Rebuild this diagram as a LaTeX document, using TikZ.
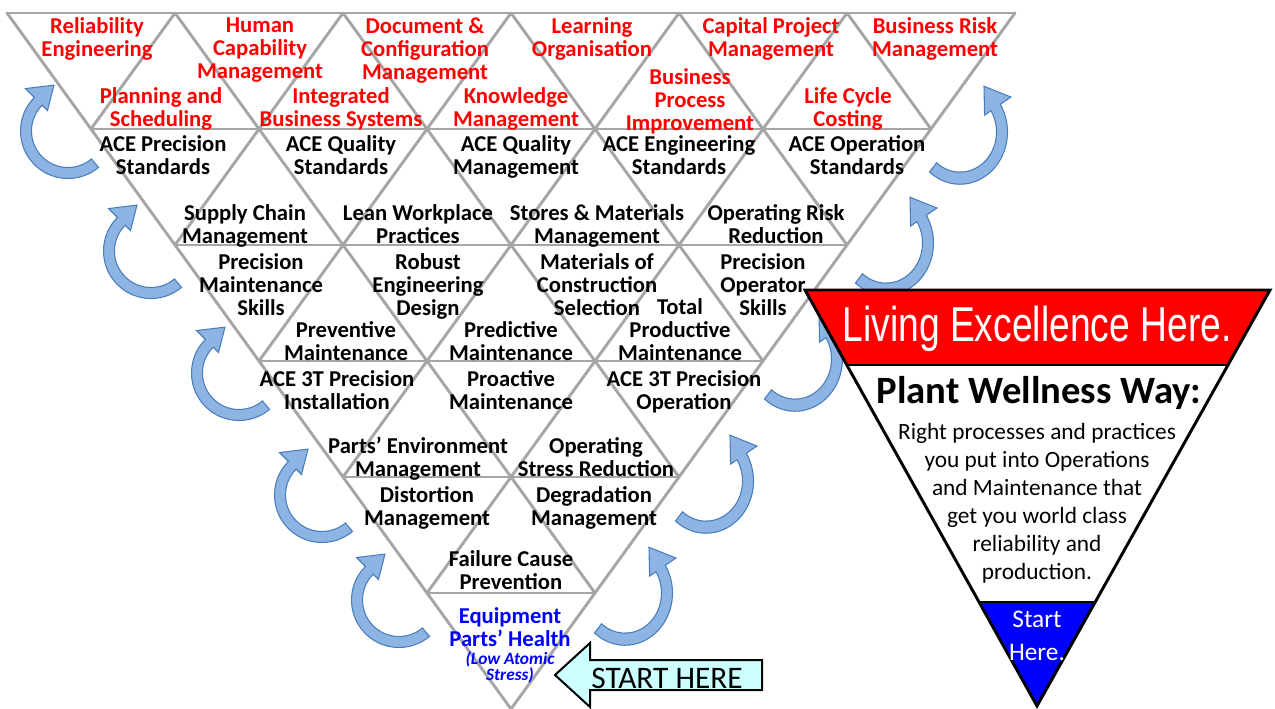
\documentclass[tikz,border=0pt]{standalone}
\usepackage{fontspec}
\setmainfont{Carlito}
\newfontfamily\arialfont{Liberation Sans}
\usepackage{tikz}
\usetikzlibrary{positioning}
\definecolor{gridgray}{RGB}{166,166,166}
\definecolor{arrowfill}{RGB}{141,180,226}
\definecolor{arrowline}{RGB}{74,126,187}
\definecolor{startfill}{RGB}{204,255,255}

% curved blue arrow, #1 = where the shaft ends (degrees, clockwise)
\tikzset{
  pics/circarrow/.style={code={
    \filldraw[fill=arrowfill, draw=arrowline, line width=0.8pt, line join=miter]
      (-50:47.5) arc[start angle=-50, end angle=-#1, radius=47.5]
      -- ({-#1}:60) -- ({-#1-28}:48) -- ({-#1}:29) -- ({-#1}:36.5)
      arc[start angle=-#1, end angle=-50, radius=36.5] -- cycle;
  }}
}

\begin{document}
\begin{tikzpicture}[x=0.75pt, y=0.75pt,
    gridline/.style={draw=gridgray, line width=2.2pt, line cap=round},
    lbl/.style={align=center, inner sep=0pt, yshift=-3.5pt,
        font=\fontsize{17}{17.25}\selectfont\bfseries,
        execute at begin node=\strut, execute at end node=\strut},
    redlbl/.style={lbl, text=red},
    bluelbl/.style={lbl, text=blue}]
    \useasboundingbox (0,0) rectangle (1275,-709);

    % triangle grid
    \foreach \k in {0,...,5}
        \draw[gridline] ({7+84*\k},{-13-116*\k}) -- ({1015-84*\k},{-13-116*\k});
    \foreach \i in {0,...,5} {
        \draw[gridline] ({7+168*\i},-13) -- ({7+168*\i+84*(6-\i)},{-13-116*(6-\i)});
        \draw[gridline] ({1015-168*\i},-13) -- ({1015-168*\i-84*(6-\i)},{-13-116*(6-\i)});
    }

    % business level
    \node [redlbl] (relEng) at (97,-36) {Reliability\\Engineering};
    \node [redlbl] (humCap) at (260,-47) {Human\\Capability\\Management};
    \node [redlbl] (docCfg) at (425,-47) {Document \&\\Configuration\\Management};
    \node [redlbl] (learnOrg) at (592,-36) {Learning\\Organisation};
    \node [redlbl] (capProj) at (771,-36) {Capital Project\\Management};
    \node [redlbl] (busRisk) at (935,-36) {Business Risk\\Management};
    \node [redlbl] (planSched) at (161,-106) {Planning and\\Scheduling};
    \node [redlbl] (intBus) at (341,-106) {Integrated\\Business Systems};
    \node [redlbl] (knowMgmt) at (516,-106) {Knowledge\\Management};
    \node [redlbl] (busProc) at (690,-98) {Business\\Process\\Improvement};
    \node [redlbl] (lifeCyc) at (848,-106) {Life Cycle\\Costing};

    % standards and practices
    \node [lbl] (acePrec) at (163,-154) {ACE Precision\\Standards};
    \node [lbl] (aceQualStd) at (341,-154) {ACE Quality\\Standards};
    \node [lbl] (aceQualMgmt) at (516,-154) {ACE Quality\\Management};
    \node [lbl] (aceEng) at (679,-154) {ACE Engineering\\Standards};
    \node [lbl] (aceOps) at (857,-154) {ACE Operation\\Standards};
    \node [lbl] (supply) at (245,-223) {Supply Chain\\Management};
    \node [lbl] (lean) at (418,-223) {Lean Workplace\\Practices};
    \node [lbl] (stores) at (597,-223) {Stores \& Materials\\Management};
    \node [lbl] (opRisk) at (776,-223) {Operating Risk\\Reduction};
    \node [lbl] (precMaint) at (261,-283) {Precision\\Maintenance\\Skills};
    \node [lbl] (robust) at (428,-283) {Robust\\Engineering\\Design};
    \node [lbl] (materials) at (597,-283) {Materials of\\Construction\\Selection};
    \node [lbl] (precOp) at (763,-283) {Precision\\Operator\\Skills};
    \node [lbl] (prevent) at (346,-340) {Preventive\\Maintenance};
    \node [lbl] (predict) at (511,-340) {Predictive\\Maintenance};
    \node [lbl] (tpm) at (680,-328) {Total\\Productive\\Maintenance};
    \node [lbl] (aceInst) at (337,-389) {ACE 3T Precision\\Installation};
    \node [lbl] (proact) at (511,-389) {Proactive\\Maintenance};
    \node [lbl] (aceOper) at (684,-389) {ACE 3T Precision\\Operation};
    \node [lbl] (partsEnv) at (418,-456) {Parts’ Environment\\Management};
    \node [lbl] (opStress) at (596,-456) {Operating\\Stress Reduction};
    \node [lbl] (distort) at (427,-505) {Distortion\\Management};
    \node [lbl] (degrad) at (594,-505) {Degradation\\Management};
    \node [lbl] (failCause) at (511,-569) {Failure Cause\\Prevention};
    \node [bluelbl] (health) at (510,-626) {Equipment\\Parts’ Health};
    \node [bluelbl, yshift=1.5pt, font=\fontsize{13}{12.5}\selectfont\bfseries\itshape] (atomic) at (510,-666)
        {(Low Atomic\\Stress)};

    % improvement loops
    \pic at (68,-131) {circarrow=225};
    \pic at (151,-251) {circarrow=225};
    \pic at (239,-373) {circarrow=225};
    \pic at (322,-495) {circarrow=225};
    \pic at (399,-600) {circarrow=225};
    \pic [xscale=-1, yscale=1.1] at (960,-132) {circarrow=212};
    \pic [xscale=-1, yscale=1.1] at (886,-243) {circarrow=212};
    \pic [xscale=-1, yscale=1.1] at (795,-359) {circarrow=212};
    \pic [xscale=-1, yscale=1.1] at (706,-481) {circarrow=212};
    \pic [xscale=-1, yscale=1.1] at (625,-593) {circarrow=212};

    % start arrow
    \filldraw[fill=startfill, draw=black, line width=1.5pt, line join=miter]
        (555,-675) -- (590,-643) -- (590,-660) -- (762,-660) -- (762,-690)
        -- (590,-690) -- (590,-707) -- cycle;
    \node [font=\fontsize{23.5}{24}\selectfont] (startLbl) at (667,-678) {START HERE};

    % plant wellness way triangle
    \fill[white] (805,-290) -- (1270,-290) -- (1037,-706) -- cycle;
    \fill[red] (805,-290) -- (1270,-290) -- (1228,-365) -- (847,-365) -- cycle;
    \fill[blue] (979,-602) -- (1095,-602) -- (1037,-706) -- cycle;
    \draw[line width=2.2pt] (847,-365) -- (1228,-365);
    \draw[line width=2.2pt] (979,-602) -- (1095,-602);
    \draw[line width=2.2pt, line join=miter] (805,-290) -- (1270,-290) -- (1037,-706) -- cycle;

    \node [text=white, font=\arialfont\fontsize{36.75}{40}\selectfont] (living) at (1037,-329)
        {\scalebox{0.76}[1]{Living Excellence Here.}};
    \node [font=\fontsize{29}{30}\selectfont\bfseries] (pww) at (1039,-393) {Plant Wellness Way:};
    \node [align=center, inner sep=0pt, font=\fontsize{17.5}{21}\selectfont] (pwwText) at (1037,-503)
        {Right processes and practices\\you put into Operations\\and Maintenance that\\get you world class\\reliability and\\production.};
    \node [align=center, inner sep=0pt, text=white, font=\fontsize{19}{25}\selectfont] (startHere) at (1037,-636)
        {Start\\Here.};
\end{tikzpicture}
\end{document}
